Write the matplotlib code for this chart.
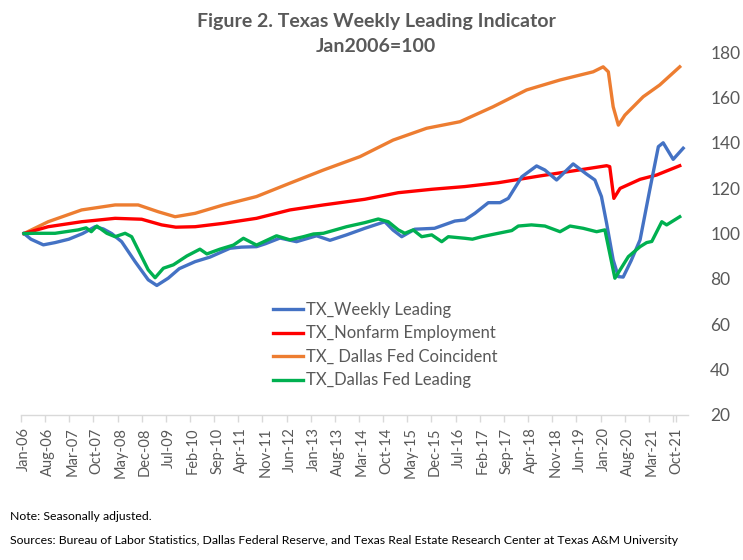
import numpy as np
import matplotlib
matplotlib.use("Agg")
import matplotlib.pyplot as plt

# months since Jan-2006 and index values (Jan2006=100)
weekly_m = [0, 2, 5.6, 9, 13, 17, 20.6, 23, 25.4, 28.3, 32.2, 36, 38.5, 41.8, 45,
            49.6, 53.9, 59.7, 63, 67.4, 70, 74.2, 79, 84.8, 88.7, 93.5, 98.8, 104.6,
            107, 109.5, 113.3, 119, 124.9, 127.8, 130.7, 134.6, 138, 140.4, 144.3,
            148.6, 151, 154.4, 159.2, 163, 165.5, 167.4, 168.9, 170.8, 172.3, 173.7,
            176, 178.6, 181.4, 183.9, 185.3, 188.2, 191.1]
weekly_v = [100, 97.5, 95, 96, 97.5, 100, 103, 102, 100, 96.4, 87.6, 79.6, 77.1, 80.3,
            84.5, 87.6, 89.6, 93.5, 94, 94.2, 95.5, 98, 96.4, 99, 97, 99.4, 102.3, 105.2,
            101.5, 98.6, 101.9, 102.3, 105.5, 106, 108.9, 113.6, 113.6, 115.5, 125,
            129.8, 128, 123.6, 130.7, 126.3, 123.6, 116.3, 104.5, 88.4, 81, 80.8,
            88, 97.2, 119.2, 138.3, 140, 132.7, 137.6]

nonfarm_m = [0, 7, 16.7, 26.4, 34.1, 39.9, 44, 49.6, 57.8, 67.4, 77.1, 86.8, 98.8,
             108.5, 118.2, 127.8, 137.5, 149.6, 160, 168.9, 169.8, 171, 172.8, 178.6,
             183.4, 190.1]
nonfarm_v = [100, 103, 105.2, 106.7, 106.3, 103.8, 102.8, 103, 104.5, 106.7, 110.4,
             112.6, 115.1, 118, 119.5, 120.7, 122.4, 125.4, 127.8, 129.9, 129.5, 115.5,
             119.9, 123.9, 125.8, 129.9]

coinc_m = [0, 7, 16.7, 26.4, 33.1, 38.9, 43.8, 49.6, 57.8, 67.4, 77.1, 86.8, 97.4,
           107, 116.7, 126.4, 136, 145.7, 155.4, 165, 167.9, 169.4, 170.8, 172.3,
           174.2, 179.5, 184.3, 190.1]
coinc_v = [100, 105.2, 110.4, 112.6, 112.6, 109.6, 107.4, 108.9, 112.6, 116.3, 122.2,
           128, 133.9, 141.2, 146.4, 149.3, 155.9, 163.3, 167.7, 171.3, 173.5, 171.3,
           155.9, 147.8, 152.2, 160.3, 165.5, 173.5]

dleading_m = [0, 3.2, 9, 15.7, 18, 19.5, 21.1, 24, 26.4, 29.3, 31.2, 33.1, 36, 38,
              40.4, 43.3, 47.2, 51, 53, 56.8, 60.7, 63.6, 67.4, 73.2, 77.1, 81, 83.9,
              86.8, 93.5, 98.8, 102.7, 105.6, 108.5, 110.4, 112.8, 115.3, 118.2, 121.1,
              123, 127.8, 130, 132.7, 137.5, 141.4, 143.3, 147.1, 151, 155.4, 158.3,
              162.1, 166, 168.4, 171.3, 175.2, 178.6, 180.5, 182, 184.9, 186.3, 190.1]
dleading_v = [100, 100.1, 100.1, 101.6, 102.5, 100.8, 103.3, 100.1, 98.6, 100.1,
              98.6, 92.8, 84, 80.5, 84.7, 86.2, 90.1, 93.1, 91, 93.1, 94.9, 97.9, 94.9,
              99, 97.2, 98.6, 99.8, 100.1, 103, 104.8, 106.4, 105.2, 101.6, 100.1,
              101.6, 98.6, 99.4, 96.4, 98.6, 97.9, 97.5, 98.6, 100.1, 101.3, 103.3,
              103.8, 103.3, 100.8, 103.3, 102.3, 100.8, 101.6, 80.3, 89.8, 94.2, 96,
              96.5, 105.2, 103.8, 107.4]

labels = ["TX_Weekly Leading", "TX_Nonfarm Employment",
          "TX_ Dallas Fed Coincident", "TX_Dallas Fed Leading"]
y_ticks = [20, 40, 60, 80, 100, 120, 140, 160, 180]

MONTHS = ["Jan", "Feb", "Mar", "Apr", "May", "Jun",
          "Jul", "Aug", "Sep", "Oct", "Nov", "Dec"]
tick_m = list(range(0, 190, 7))
tick_lab = [f"{MONTHS[m % 12]}-{(6 + m // 12):02d}" for m in tick_m]

GREY = "#595959"
plt.rcParams["font.family"] = ["Lato", "DejaVu Sans"]

fig = plt.figure(figsize=(7.43, 5.6), dpi=100)
ax = fig.add_axes([0.0283, 0.259, 0.8977, 0.648])

ax.plot(weekly_m, weekly_v, color="#4472C4", lw=2.4, label=labels[0], zorder=4)
ax.plot(nonfarm_m, nonfarm_v, color="#FF0000", lw=2.4, label=labels[1], zorder=3)
ax.plot(coinc_m, coinc_v, color="#ED7D31", lw=2.4, label=labels[2], zorder=2)
ax.plot(dleading_m, dleading_v, color="#00B050", lw=2.4, label=labels[3], zorder=5)

ax.set_xlim(-0.87, 192.5)
ax.set_ylim(20, 180)
ax.set_yticks(y_ticks)
ax.yaxis.tick_right()
ax.tick_params(axis="y", length=0, labelsize=12.5, labelcolor=GREY, pad=16)

# labels sit on the categories, tick marks between them
ax.set_xticks(tick_m)
ax.set_xticklabels(tick_lab, rotation=90)
ax.set_xticks([m - 0.87 for m in tick_m] + [189.13], minor=True)
ax.tick_params(axis="x", which="major", length=0, labelsize=10.5,
               labelcolor=GREY, pad=9)
ax.tick_params(axis="x", which="minor", length=5, color="#D9D9D9", width=1.0)
for s in ["top", "left", "right"]:
    ax.spines[s].set_visible(False)
ax.spines["bottom"].set_color("#D9D9D9")
ax.spines["bottom"].set_linewidth(1.0)

fig.text(0.506, 0.939, "Figure 2. Texas Weekly Leading Indicator\nJan2006=100",
         ha="center", va="center", fontsize=14, fontweight="bold",
         color=GREY, linespacing=1.55)

leg = fig.legend(loc="upper left", bbox_to_anchor=(0.368, 0.461), frameon=False,
                 fontsize=12, handlelength=1.8, handletextpad=0.15,
                 labelspacing=0.45, borderpad=0, borderaxespad=0)
for t in leg.get_texts():
    t.set_color(GREY)

fig.text(0.013, 0.077, "Note: Seasonally adjusted.", fontsize=8.8, va="center")
fig.text(0.013, 0.035, "Sources: Bureau of Labor Statistics, Dallas Federal Reserve, "
         "and Texas Real Estate Research Center at Texas A&M University",
         fontsize=8.8, va="center")

fig.savefig("out.png", dpi=100)
